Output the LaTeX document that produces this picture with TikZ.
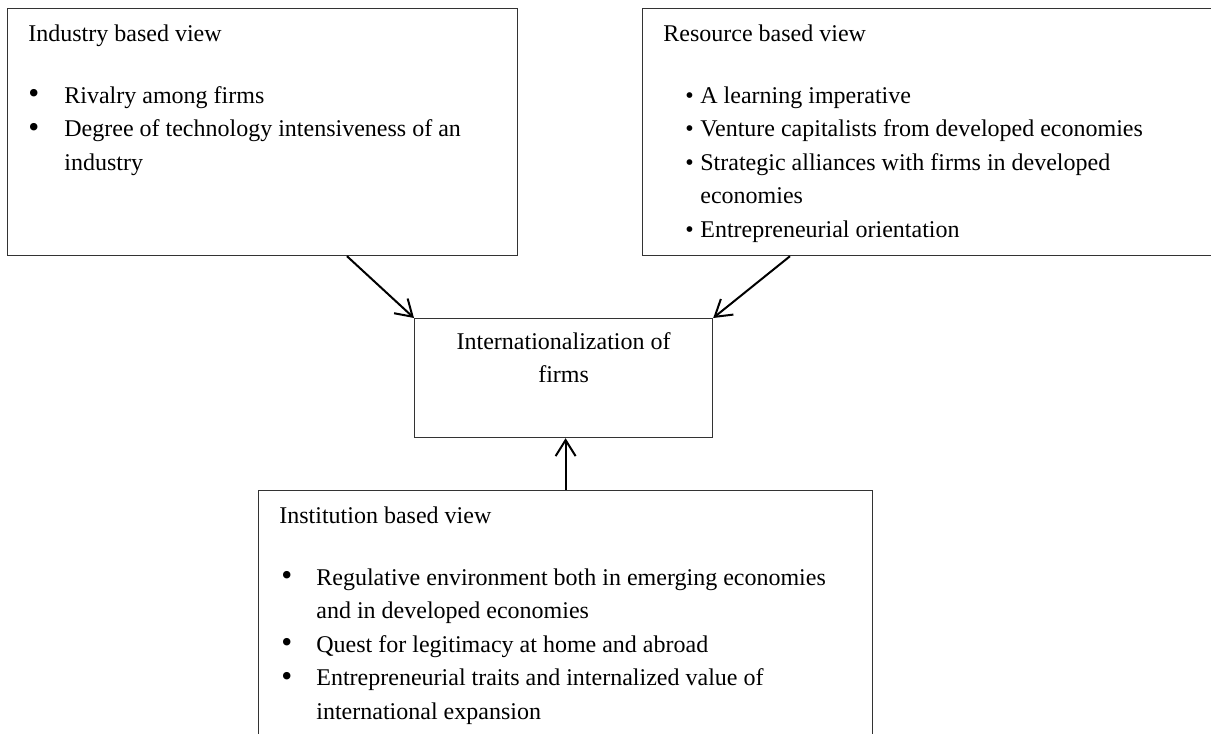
\documentclass[tikz,border=0pt]{standalone}
\usepackage{fontspec}
\setmainfont{Liberation Serif}
\usepackage{tikz}
\usetikzlibrary{arrows.meta}
\usepackage{xcolor}
\definecolor{frameCol}{HTML}{333333}
\definecolor{arrowCol}{HTML}{000000}

% bullet of a given width, optional indent before it
\newcommand{\bul}[2][0pt]{\makebox[#2][l]{\hspace*{#1}\textbullet}}
% larger round bullet (symbol style)
\newcommand{\bigbul}[2][0pt]{\makebox[#2][l]{\hspace*{#1}\raisebox{-0.4pt}{\scalebox{1.3}{\textbullet}}}}

\begin{document}
\begin{tikzpicture}[
    x=0.5pt, y=-0.5pt,
    viewbox/.style={rectangle, draw=frameCol, line width=0.6pt, anchor=north west, inner sep=0pt},
    blurb/.style={anchor=north west, align=left, inner sep=0pt, font=\fontsize{12pt}{16.75pt}\selectfont},
    centre/.style={anchor=north, align=center, inner sep=0pt, font=\fontsize{12pt}{16.5pt}\selectfont},
    edge/.style={-{Straight Barb[length=8pt, width=10pt, line width=1pt]}, line width=1pt, draw=arrowCol}
]

\useasboundingbox (0,0) rectangle (1211,734);
\clip (0,0) rectangle (1211,734);

% =====================================================================
% BOXES
% =====================================================================
\node[viewbox, minimum width=255pt, minimum height=123.5pt] (ind) at (7,8) {};
\node[viewbox, minimum width=300pt, minimum height=123.5pt] (res) at (642,8) {};
\node[viewbox, minimum width=149pt, minimum height=59.5pt] (intl) at (414,318) {};
\node[viewbox, minimum width=307pt, minimum height=140pt] (inst) at (258,490) {};

% =====================================================================
% TEXTS
% =====================================================================
\node[blurb] (indtxt) at ([shift={(21,16)}]ind.north west) {Industry based view\\[14.25pt]
\bigbul{18pt}Rivalry among firms\\
\bigbul{18pt}Degree of technology intensiveness of an\\
\hspace*{18pt}industry};

\node[blurb] (restxt) at ([shift={(21,16)}]res.north west) {Resource based view\\[14.25pt]
\bul[11pt]{18.5pt}A learning imperative\\
\bul[11pt]{18.5pt}Venture capitalists from developed economies\\
\bul[11pt]{18.5pt}Strategic alliances with firms in developed\\
\hspace*{18.5pt}economies\\
\bul[11pt]{18.5pt}Entrepreneurial orientation};

\node[centre] (intltxt) at ([shift={(0,14)}]intl.north) {Internationalization of\\firms};

\node[blurb] (insttxt) at ([shift={(21,16)}]inst.north west) {Institution based view\\[14.25pt]
\bigbul[1pt]{18.5pt}Regulative environment both in emerging economies\\
\hspace*{18.5pt}and in developed economies\\
\bigbul[1pt]{18.5pt}Quest for legitimacy at home and abroad\\
\bigbul[1pt]{18.5pt}Entrepreneurial traits and internalized value of\\
\hspace*{18.5pt}international expansion};

% =====================================================================
% EDGES
% =====================================================================
\draw[edge] ([xshift=170pt]ind.south west) -- (intl.north west);
\draw[edge] ([xshift=74pt]res.south west) -- (intl.north east);
\draw[edge] (inst.north) -- (inst.north |- intl.south);

\end{tikzpicture}
\end{document}
